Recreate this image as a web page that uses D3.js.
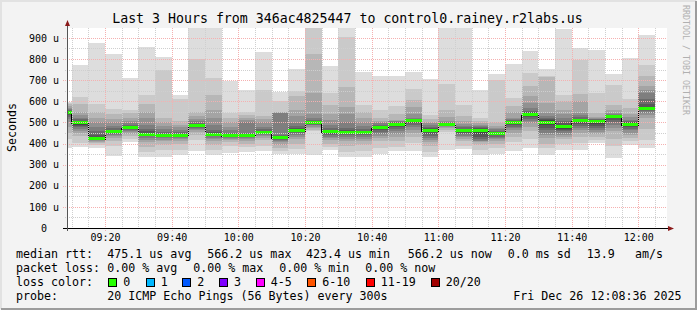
<!doctype html>
<html lang="en">
<head>
<meta charset="utf-8">
<title>Last 3 Hours</title>
<script src="https://cdn.jsdelivr.net/npm/d3@7"></script>
<style>
  body { margin: 0; background: #f3f3f3; }
  svg text { font-family: "DejaVu Sans Mono", monospace; fill: #000; }
</style>
</head>
<body>
<svg id="chart" width="697" height="310"></svg>
<script>
// time window of the graph
var startTime = "2025-12-26 09:08:36";
var endTime = "2025-12-26 12:08:36";

// end of every 5 minute step (first one is cut by the left edge)
var barEnds = ["09:10","09:15","09:20","09:25","09:30","09:35","09:40","09:45","09:50","09:55",
               "10:00","10:05","10:10","10:15","10:20","10:25","10:30","10:35","10:40","10:45",
               "10:50","10:55","11:00","11:05","11:10","11:15","11:20","11:25","11:30","11:35",
               "11:40","11:45","11:50","11:55","12:00","12:05"];

// median rtt per step, in us
var medians = [545, 498, 423.4, 455, 476, 445, 436, 438, 486, 444,
               436, 438, 452, 428, 464, 500, 455, 454, 452, 477,
               492, 507, 462, 490, 460, 460, 447, 500, 539, 501,
               479, 508, 503, 526, 490, 566.2];

// the 20 pings of every step, sorted, in us
var pings = [
  [380,420,450,480,500,515,525,535,540,543,547,550,555,560,565,570,578,585,592,597],
  [382,403,434,450,460,470,478,485,490,495,500,504,508,514,522,535,549,589,619,773],
  [380,395,403,408,412,415,418,420,422,423,424,428,440,460,480,500,521,549,589,878],
  [340,387,410,426,435,442,447,450,453,454,456,460,466,473,481,500,516,540,565,826],
  [405,420,434,445,453,460,465,470,473,475,477,480,484,490,497,508,520,545,560,710],
  [334,360,385,405,418,427,434,439,442,444,446,450,458,470,489,520,549,589,628,857],
  [335,371,395,410,418,424,429,432,434,435,437,440,446,455,468,485,500,521,750,810],
  [344,370,400,413,421,427,431,434,436,437,439,442,447,455,465,478,490,505,612,628],
  [366,418,440,455,463,470,475,479,483,485,487,490,494,499,505,515,530,549,802,1000],
  [347,370,395,410,420,428,434,438,441,443,445,449,455,465,490,520,560,628,710,1000],
  [357,390,405,415,421,426,430,433,435,436,437,440,445,452,462,478,500,520,545,694],
  [362,382,400,413,420,426,430,433,435,437,439,440,443,448,503,510,520,535,549,655],
  [363,390,415,428,435,440,444,447,450,451,453,456,461,468,480,500,515,529,652,832],
  [350,365,380,395,405,412,418,422,425,427,429,432,436,440,545,546,548,550,600,643],
  [350,376,400,420,432,442,450,455,460,463,465,468,474,484,497,530,560,627,650,753],
  [345,458,466,474,480,486,490,494,497,499,501,504,508,513,520,540,640,824,980,1100],
  [371,385,400,415,425,433,440,446,450,454,456,459,464,472,490,510,540,584,640,769],
  [335,360,390,410,422,432,440,446,450,453,455,458,463,472,500,540,571,666,905,980],
  [336,365,395,412,423,432,439,444,448,451,453,456,461,470,485,500,520,550,584,737],
  [352,380,410,425,437,447,455,462,470,475,478,481,485,490,496,500,505,521,560,718],
  [363,385,410,430,445,460,470,478,485,490,493,496,499,502,505,508,510,540,576,718],
  [363,403,430,450,465,477,487,495,501,505,509,512,515,518,520,540,575,608,658,737],
  [335,360,390,405,415,425,435,445,453,460,464,468,473,480,488,495,500,515,537,706],
  [371,455,465,472,477,481,484,486,488,489,491,493,496,499,502,505,525,560,682,1050],
  [374,390,410,422,430,437,443,449,454,458,462,466,471,477,484,492,505,530,584,1050],
  [347,371,395,405,410,414,420,430,445,457,463,467,472,478,485,490,495,505,521,655],
  [350,378,400,412,420,427,433,438,442,446,448,451,455,460,467,475,485,500,700,731],
  [366,405,430,450,462,472,480,487,493,498,502,505,508,512,516,520,549,580,616,778],
  [379,420,458,480,495,507,517,525,532,537,541,544,548,552,570,592,623,671,734,837],
  [344,379,400,426,440,452,462,475,488,497,505,510,515,522,530,545,592,716,718,754],
  [371,400,420,432,442,450,458,465,471,476,482,488,495,505,520,540,560,600,631,940],
  [371,403,430,450,463,473,483,492,500,506,510,514,518,525,535,545,600,635,797,852],
  [403,415,430,443,455,465,475,485,493,500,506,509,512,515,518,522,525,545,640,845],
  [331,387,420,458,475,490,502,512,519,524,528,531,534,537,540,545,560,584,679,731],
  [395,410,425,440,452,462,470,478,484,488,492,496,500,505,512,525,540,570,612,805],
  [379,418,470,521,535,545,552,558,562,565,567,572,585,610,640,655,671,718,773,916]
];

var yTicks = [0, 100, 200, 300, 400, 500, 600, 700, 800, 900];
var xTicks = ["09:20","09:40","10:00","10:20","10:40","11:00","11:20","11:40","12:00"];

var title = "Last 3 Hours from 346ac4825447 to control0.rainey.r2labs.us";
var medianStats = ["475.1 us avg", "566.2 us max", "423.4 us min", "566.2 us now", "0.0 ms sd", "13.9", "am/s"];
var lossStats = ["0.00 % avg", "0.00 % max", "0.00 % min", "0.00 % now"];
var lossLabels = ["0", "1", "2", "3", "4-5", "6-10", "11-19", "20/20"];
var lossColors = ["#26ff00", "#00b8ff", "#0059ff", "#7e00ff", "#ff00ff", "#ff5500", "#ff0000", "#a10000"];
var probeText = "20 ICMP Echo Pings (56 Bytes) every 300s";
var stamp = "Fri Dec 26 12:08:36 2025";

var svg = d3.select("#chart");
var plotLeft = 67, plotTop = 28, plotW = 600, plotH = 200;

var parseFull = d3.timeParse("%Y-%m-%d %H:%M:%S");
var parseHM = d3.timeParse("%Y-%m-%d %H:%M");
var day = "2025-12-26 ";

var x = d3.scaleTime()
  .domain([parseFull(startTime), parseFull(endTime)])
  .range([plotLeft, plotLeft + plotW]);
var y = d3.scaleLinear()
  .domain([0, 947])
  .range([plotTop + plotH, plotTop]);

// background and frame
svg.append("rect").attr("width", 697).attr("height", 310).attr("fill", "#f3f3f3");
svg.append("path").attr("d", "M1,309V1H696").attr("stroke", "#e2e2e2").attr("stroke-width", 2).attr("fill", "none");
svg.append("path").attr("d", "M1,309H696V1").attr("stroke", "#9c9c9c").attr("stroke-width", 2).attr("fill", "none");
svg.append("rect").attr("x", plotLeft).attr("y", plotTop).attr("width", plotW).attr("height", plotH).attr("fill", "#fff");

svg.append("clipPath").attr("id", "clip")
  .append("rect").attr("x", plotLeft).attr("y", plotTop).attr("width", plotW).attr("height", plotH);

var bars = barEnds.map(function(t, i) {
  var end = parseHM(day + t);
  return { start: d3.timeMinute.offset(end, -5), end: end, med: medians[i], p: pings[i] };
});

var plot = svg.append("g").attr("clip-path", "url(#clip)").attr("shape-rendering", "crispEdges");

// smoke: pair k covers ping k .. ping 21-k, darker towards the median
for (var k = 0; k < 10; k++) {
  var c = Math.floor(190 / 10 * (9 - k)) + 50;
  plot.append("g").selectAll("rect")
    .data(bars)
    .join("rect")
      .attr("x", function(d) { return x(d.start); })
      .attr("width", function(d) { return x(d.end) - x(d.start); })
      .attr("y", function(d) { return y(d.p[19 - k]); })
      .attr("height", function(d) { return y(d.p[k]) - y(d.p[19 - k]); })
      .attr("fill", d3.rgb(c, c, c));
}

// median
var stepPts = bars.map(function(d) { return [x(d.start), y(d.med)]; });
stepPts.push([x(bars[bars.length - 1].end), y(bars[bars.length - 1].med)]);
plot.append("path")
  .attr("d", d3.line().curve(d3.curveStepAfter)(stepPts))
  .attr("fill", "none")
  .attr("stroke", "#000")
  .attr("stroke-width", 1)
  .attr("transform", "translate(0,1)");

plot.append("g").selectAll("rect")
  .data(bars)
  .join("rect")
    .attr("x", function(d) { return x(d.start); })
    .attr("width", function(d) { return x(d.end) - x(d.start); })
    .attr("y", function(d) { return y(d.med) - 1.5; })
    .attr("height", 3)
    .attr("fill", lossColors[0]);

// grid
var grid = svg.append("g").attr("shape-rendering", "crispEdges").attr("fill", "none");
var minorY = d3.range(50, 950, 100);
grid.selectAll(".hmin").data(minorY).join("line")
  .attr("x1", plotLeft - 2).attr("x2", plotLeft + plotW)
  .attr("y1", function(d) { return Math.round(y(d)) + 0.5; })
  .attr("y2", function(d) { return Math.round(y(d)) + 0.5; })
  .attr("stroke", "#cfcfcf").attr("stroke-dasharray", "1,1");

var minorX = d3.timeMinute.every(5).range(parseHM(day + "09:10"), parseFull(endTime))
  .filter(function(d) { return d.getMinutes() % 20 !== 0; });
grid.selectAll(".vmin").data(minorX).join("line")
  .attr("x1", function(d) { return Math.round(x(d)) + 0.5; })
  .attr("x2", function(d) { return Math.round(x(d)) + 0.5; })
  .attr("y1", plotTop).attr("y2", plotTop + plotH + 2)
  .attr("stroke", "#cfcfcf").attr("stroke-dasharray", "1,1");

grid.selectAll(".hmaj").data(yTicks.slice(1)).join("line")
  .attr("x1", plotLeft - 4).attr("x2", plotLeft + plotW)
  .attr("y1", function(d) { return Math.round(y(d)) + 0.5; })
  .attr("y2", function(d) { return Math.round(y(d)) + 0.5; })
  .attr("stroke", "#f5b0b0").attr("stroke-dasharray", "1,1");

var majorX = xTicks.map(function(t) { return parseHM(day + t); });
grid.selectAll(".vmaj").data(majorX).join("line")
  .attr("x1", function(d) { return Math.round(x(d)) + 0.5; })
  .attr("x2", function(d) { return Math.round(x(d)) + 0.5; })
  .attr("y1", plotTop).attr("y2", plotTop + plotH + 3)
  .attr("stroke", "#f5b0b0").attr("stroke-dasharray", "1,1");

// axis lines and arrows
svg.append("line").attr("x1", plotLeft - 4).attr("x2", plotLeft + plotW + 2)
  .attr("y1", plotTop + plotH + 0.5).attr("y2", plotTop + plotH + 0.5)
  .attr("stroke", "#000").attr("shape-rendering", "crispEdges");
svg.append("line").attr("x1", plotLeft + 0.5).attr("x2", plotLeft + 0.5)
  .attr("y1", plotTop + plotH + 3).attr("y2", plotTop - 3)
  .attr("stroke", "#555").attr("shape-rendering", "crispEdges");
svg.append("path").attr("d", "M" + (plotLeft + plotW + 1) + "," + (plotTop + plotH - 2) + "l6,2.5l-6,2.5z").attr("fill", "#8b1a1a");
svg.append("path").attr("d", "M" + (plotLeft - 2) + "," + (plotTop - 2) + "l2.5,-6l2.5,6z").attr("fill", "#8b1a1a");

// tick labels
var yAxis = svg.append("g")
  .attr("transform", "translate(" + plotLeft + ",0)")
  .call(d3.axisLeft(y).tickValues(yTicks).tickSize(0).tickPadding(8)
    .tickFormat(function(d) { return d === 0 ? "0" : d + " u"; }));
yAxis.select(".domain").remove();
yAxis.selectAll("text").style("font-family", "DejaVu Sans Mono").style("font-size", "10px").attr("fill", "#000");
yAxis.selectAll("text").filter(function(d) { return d === 0; }).attr("dx", -12);

var xAxis = svg.append("g")
  .attr("transform", "translate(0," + (plotTop + plotH) + ")")
  .call(d3.axisBottom(x).tickValues(majorX).tickSize(0).tickPadding(5.6)
    .tickFormat(d3.timeFormat("%H:%M")));
xAxis.select(".domain").remove();
xAxis.selectAll("text").style("font-family", "DejaVu Sans Mono").style("font-size", "10px").attr("fill", "#000");

// title and side texts
svg.append("text").attr("x", 347.5).attr("y", 23).attr("text-anchor", "middle")
  .style("font-size", "13.25px").text(title);
svg.append("text").attr("transform", "translate(15.5,127.5) rotate(-90)").attr("text-anchor", "middle")
  .style("font-size", "11.6px").text("Seconds");
svg.append("text").attr("transform", "translate(683,5) rotate(90)")
  .style("font-size", "8.3px").style("fill", "#b0b0b0").text("RRDTOOL / TOBI OETIKER");

// legend
var fs = "11.65px";
function row(label, yy) {
  svg.append("text").attr("x", 16).attr("y", yy).style("font-size", fs).text(label);
}
row("median rtt:", 258);
var medX = [107.3, 207.3, 306, 407.7, 507.7, 586.7, 635];
svg.append("g").selectAll("text").data(medianStats).join("text")
  .attr("x", function(d, i) { return medX[i]; }).attr("y", 258).style("font-size", fs).text(function(d) { return d; });

row("packet loss:", 272);
var lossX = [107.3, 193.3, 279.3, 365.3];
svg.append("g").selectAll("text").data(lossStats).join("text")
  .attr("x", function(d, i) { return lossX[i]; }).attr("y", 272).style("font-size", fs).text(function(d) { return d; });

row("loss color:", 286);
var boxX = [108.3, 145.7, 182.3, 219, 255.7, 307.3, 365.7, 430.7];
var lc = svg.append("g").selectAll("g").data(lossLabels).join("g")
  .attr("transform", function(d, i) { return "translate(" + boxX[i] + ",0)"; });
lc.append("rect").attr("x", 0.5).attr("y", 278.5).attr("width", 8).attr("height", 8)
  .attr("fill", function(d, i) { return lossColors[i]; }).attr("stroke", "#000").attr("shape-rendering", "crispEdges");
lc.append("text").attr("x", 15).attr("y", 286).style("font-size", fs).text(function(d) { return d; });

row("probe:", 300);
svg.append("text").attr("x", 107.3).attr("y", 300).style("font-size", fs).text(probeText);
svg.append("text").attr("x", 513.3).attr("y", 300).style("font-size", fs).text(stamp);
</script>
</body>
</html>
